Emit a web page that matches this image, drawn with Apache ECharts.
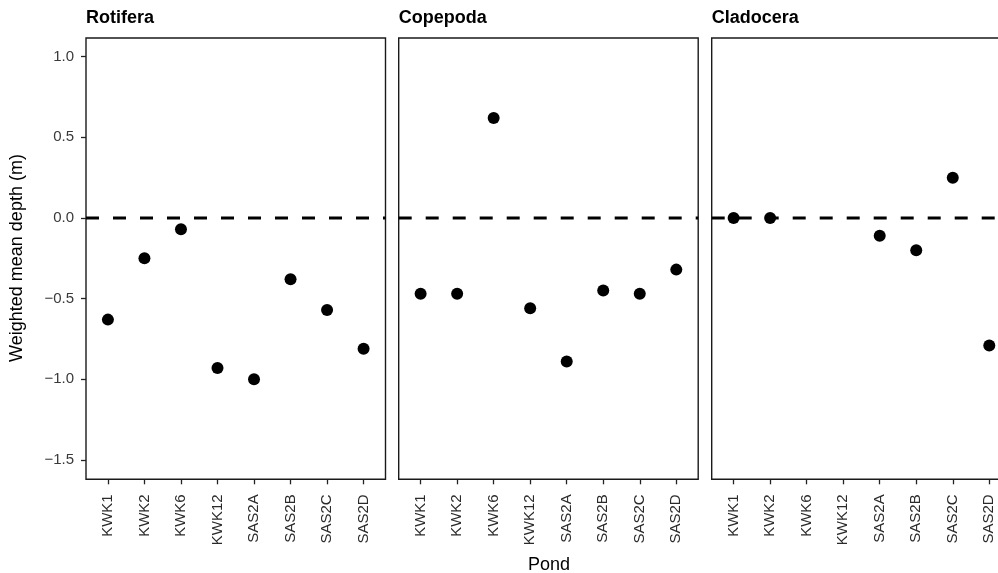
<!DOCTYPE html>
<html>
<head>
<meta charset="utf-8">
<script src="https://cdn.jsdelivr.net/npm/echarts@6/dist/echarts.min.js"></script>
<style>
html,body{margin:0;padding:0;background:#fff;}
#chart{width:998px;height:573px;}
</style>
</head>
<body>
<div id="chart"></div>
<script>
const categories = ['KWK1','KWK2','KWK6','KWK12','SAS2A','SAS2B','SAS2C','SAS2D'];
const panelNames = ['Rotifera','Copepoda','Cladocera'];
const rotifera  = [-0.63, -0.25, -0.07, -0.93, -1.00, -0.38, -0.57, -0.81];
const copepoda  = [-0.47, -0.47,  0.62, -0.56, -0.89, -0.45, -0.47, -0.32];
const cladocera = [ 0.00,  0.00,  null,  null, -0.11, -0.20,  0.25, -0.79];
const yTicks = [-1.5, -1.0, -0.5, 0.0, 0.5, 1.0];
const refLine = 0;

const panelValues = [rotifera, copepoda, cladocera];
const FONT = '"Liberation Sans", Arial, Helvetica, sans-serif';
const lefts = [86, 398.7, 711.7];
const W = 299.5, TOP = 38, H = 441.3;
const xIdx = categories.map((c,i)=>i);

const grids = [], xAxes = [], yAxes = [], series = [], titles = [];
panelValues.forEach((vals, p) => {
  grids.push({left: lefts[p], top: TOP, width: W, height: H, show: true,
    outerBoundsMode: 'none', containLabel: false,
    borderColor: '#1a1a1a', borderWidth: 1.4, backgroundColor: '#fff'});
  xAxes.push({type: 'value', gridIndex: p, min: -0.6, max: 7.6,
    axisLine: {show: false, onZero: false}, splitLine: {show: false},
    axisTick: {show: true, customValues: xIdx, length: 5, lineStyle: {color: '#222', width: 1.3}},
    axisLabel: {show: true, customValues: xIdx, rotate: 90, margin: 15,
      color: '#2a2a2a', fontSize: 15, fontFamily: FONT,
      formatter: v => categories[Math.round(v)]}});
  yAxes.push({type: 'value', gridIndex: p, min: -1.62, max: 1.116,
    axisLine: {show: false, onZero: false}, splitLine: {show: false},
    axisTick: {show: p === 0, customValues: yTicks, length: 5, lineStyle: {color: '#222', width: 1.3}},
    axisLabel: {show: p === 0, customValues: yTicks, margin: 12, color: '#3a3a3a', fontSize: 15, fontFamily: FONT,
      formatter: v => (v < 0 ? '\u2212' : '') + Math.abs(v).toFixed(1)}});
  series.push({type: 'line', xAxisIndex: p, yAxisIndex: p, z: 1, silent: true,
    symbol: 'none', data: [[-0.6, refLine], [7.6, refLine]],
    lineStyle: {color: '#000', width: 3.2, type: [13, 14], cap: 'butt'}});
  series.push({type: 'scatter', xAxisIndex: p, yAxisIndex: p, z: 3,
    symbolSize: 12, itemStyle: {color: '#000', opacity: 1},
    data: vals.map((v,i)=> v === null ? null : [i, v]).filter(d => d !== null)});
  titles.push({text: panelNames[p], left: lefts[p], top: 9, padding: 0,
    textStyle: {fontSize: 18, fontWeight: 'bold', color: '#000', fontFamily: FONT}});
});

const chart = echarts.init(document.getElementById('chart'));
chart.setOption({
  animation: false,
  backgroundColor: '#fff',
  title: titles,
  grid: grids, xAxis: xAxes, yAxis: yAxes, series: series,
  graphic: [
    {type: 'text', x: 17, y: 258, rotation: Math.PI/2,
      style: {text: 'Weighted mean depth (m)', fontSize: 18, fontFamily: FONT, fill: '#000',
        textAlign: 'center', textVerticalAlign: 'middle'}},
    {type: 'text', x: 549, y: 565,
      style: {text: 'Pond', fontSize: 18, fontFamily: FONT, fill: '#000',
        textAlign: 'center', textVerticalAlign: 'middle'}}
  ]
});
</script>
</body>
</html>
